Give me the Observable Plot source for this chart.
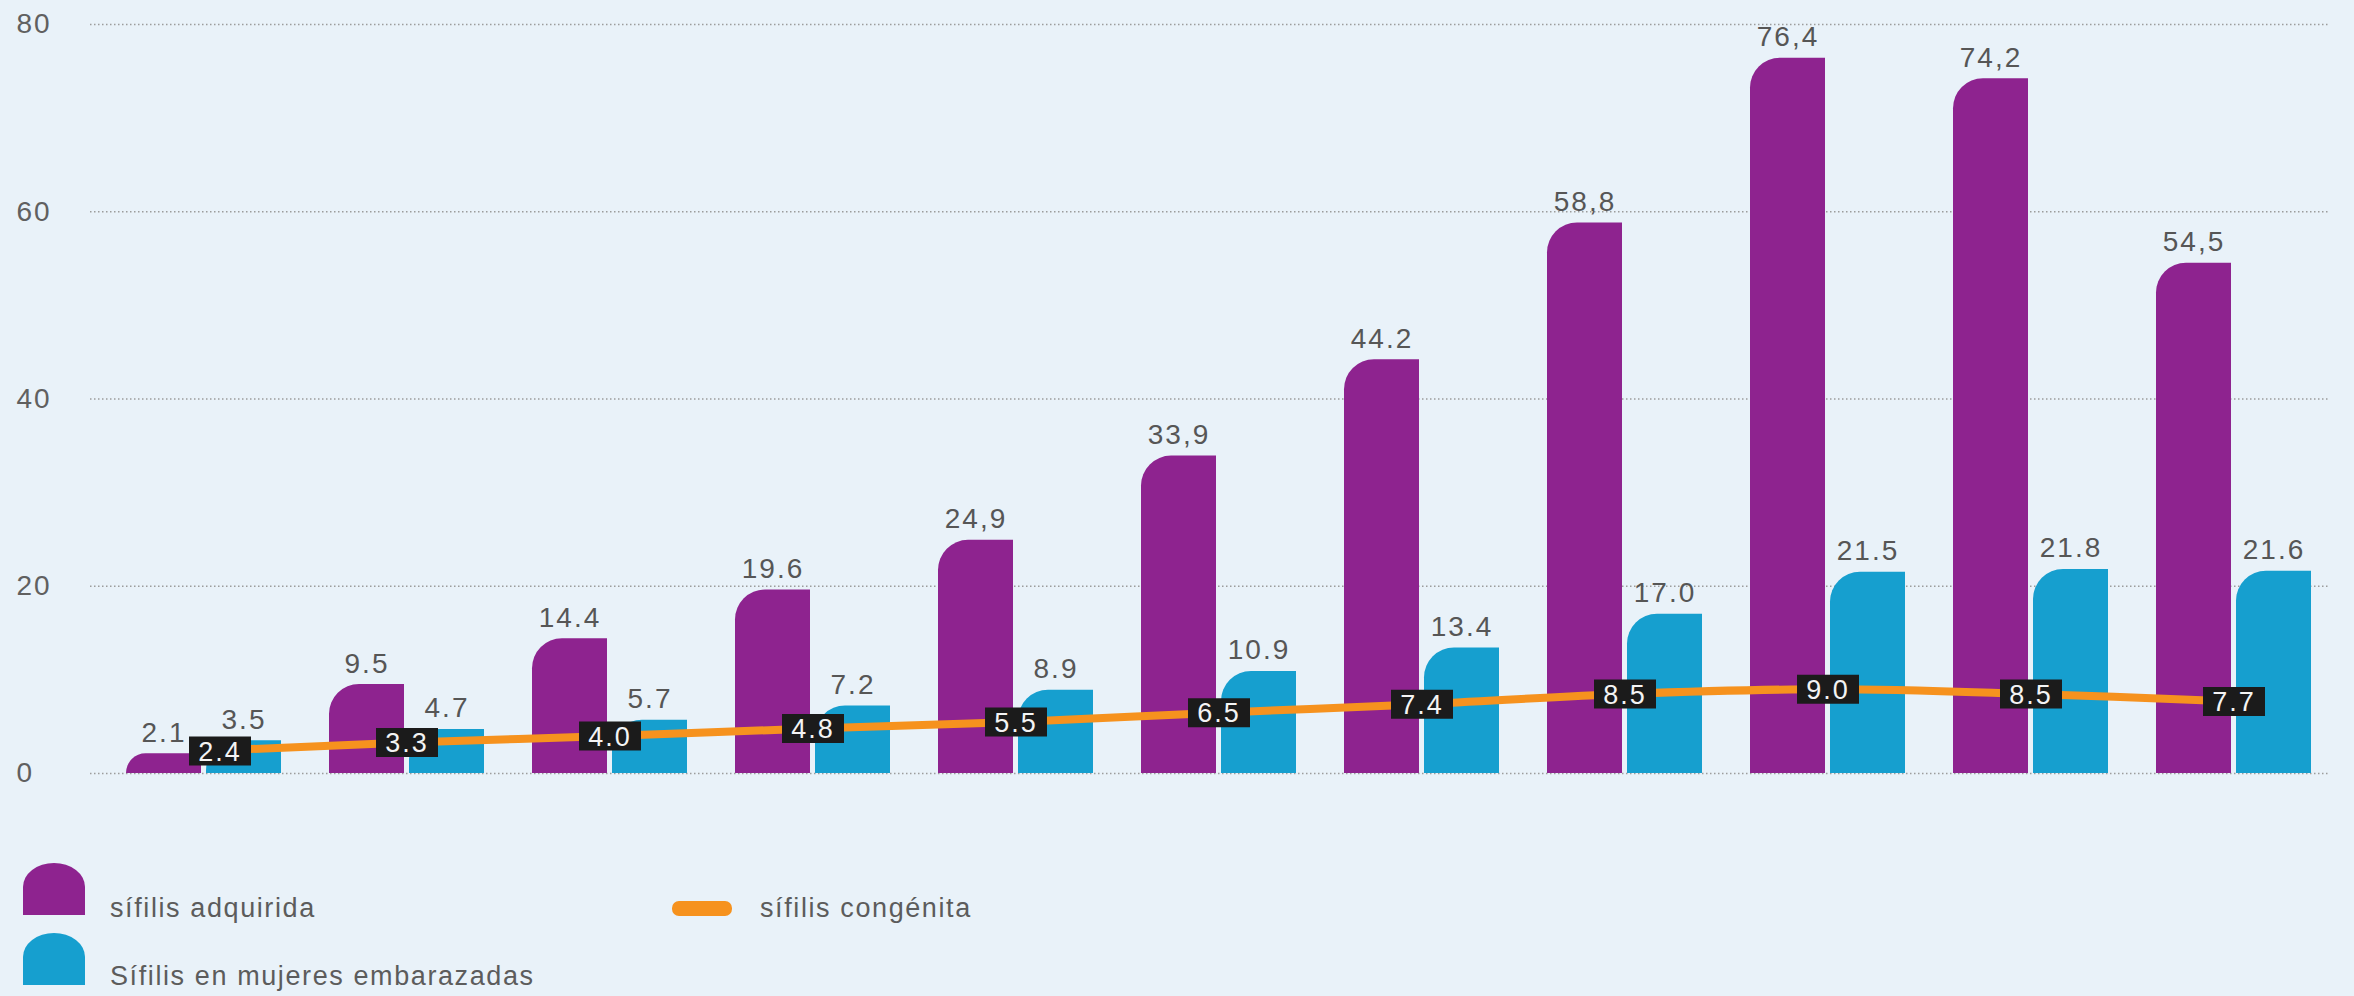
<!DOCTYPE html>
<html>
<head>
<meta charset="utf-8">
<script src="https://cdn.jsdelivr.net/npm/d3@7"></script>
<script src="https://cdn.jsdelivr.net/npm/@observablehq/plot@0.6"></script>
<style>
  html, body { margin: 0; padding: 0; background: #e9f2f9; }
  #wrap { position: relative; width: 2354px; height: 996px; overflow: hidden; background: #e9f2f9;
          font-family: "Liberation Sans", Arial, sans-serif; }
  #chart { position: absolute; left: 0; top: 0; }
  .lg { position: absolute; font-size: 27px; color: #5c5c5c; letter-spacing: 1.6px; white-space: nowrap; }
  .sw { position: absolute; }
</style>
</head>
<body>
<div id="wrap">
  <div id="chart"></div>
  <div id="legend"></div>
</div>
<script>
// ---- data ----
const categories = ["1", "2", "3", "4", "5", "6", "7", "8", "9", "10", "11"];
const adquirida = [2.1, 9.5, 14.4, 19.6, 24.9, 33.9, 44.2, 58.8, 76.4, 74.2, 54.5];
const adquiridaLabels = ["2.1", "9.5", "14.4", "19.6", "24,9", "33,9", "44.2", "58,8", "76,4", "74,2", "54,5"];
const embarazadas = [3.5, 4.7, 5.7, 7.2, 8.9, 10.9, 13.4, 17.0, 21.5, 21.8, 21.6];
const embarazadasLabels = ["3.5", "4.7", "5.7", "7.2", "8.9", "10.9", "13.4", "17.0", "21.5", "21.8", "21.6"];
const congenita = [2.4, 3.3, 4.0, 4.8, 5.5, 6.5, 7.4, 8.5, 9.0, 8.5, 7.7];
const congenitaLabels = ["2.4", "3.3", "4.0", "4.8", "5.5", "6.5", "7.4", "8.5", "9.0", "8.5", "7.7"];
const yTicks = [0, 20, 40, 60, 80];
const seriesNames = ["sífilis adquirida", "Sífilis en mujeres embarazadas", "sífilis congénita"];

const PURPLE = "#8e238f", CYAN = "#169fcf", ORANGE = "#f6921e";

const rows = categories.map((c, i) => ({
  cat: c,
  adq: adquirida[i], adqL: adquiridaLabels[i],
  emb: embarazadas[i], embL: embarazadasLabels[i],
  con: congenita[i], conL: congenitaLabels[i]
}));

const boxSymbol = {
  draw(ctx, size) { ctx.rect(-31, -14.5, 62, 29); }
};
const first = (d, i) => i === 0;
const rest = (d, i) => i !== 0;

const chart = Plot.plot({
  width: 2354,
  height: 800,
  marginLeft: 90,
  marginRight: 24,
  marginTop: 24,
  marginBottom: 27,
  style: { background: "transparent", fontFamily: "'Liberation Sans', Arial, sans-serif", letterSpacing: "2px" },
  x: { domain: categories, paddingInner: 0.237, paddingOuter: 0.129, align: 0.648, axis: null },
  y: { domain: [0, 80] },
  marks: [
    Plot.gridY(yTicks, { stroke: "#9c9c9c", strokeOpacity: 1, strokeWidth: 1.6, strokeDasharray: "1.5,2.5" }),
    Plot.axisY(yTicks, { tickSize: 0, tickPadding: 74, textAnchor: "start", fontSize: 28, fill: "#606060" }),
    Plot.barY(rows, { x: "cat", y: "adq", fill: PURPLE, insetRight: 80, rx1y1: 30 }),
    Plot.barY(rows, { x: "cat", y: "emb", fill: CYAN, insetLeft: 80, rx1y1: 30 }),
    Plot.text(rows, { x: "cat", y: "adq", text: "adqL", dx: -40, dy: -12, lineAnchor: "bottom", fontSize: 28, fill: "#565656" }),
    Plot.text(rows, { x: "cat", y: "emb", text: "embL", dx: 40, dy: -12, lineAnchor: "bottom", fontSize: 28, fill: "#565656" }),
    Plot.line(rows, { x: "cat", y: "con", stroke: ORANGE, strokeWidth: 8, curve: "catmull-rom" }),
    Plot.dot(rows, { filter: rest, x: "cat", y: "con", symbol: boxSymbol, fill: "#1b1b1b", r: 10 }),
    Plot.text(rows, { filter: rest, x: "cat", y: "con", text: "conL", fontSize: 27, fill: "#f4f4f4", dy: 1 }),
    Plot.dot(rows, { filter: first, x: "cat", y: "con", dx: 16, symbol: boxSymbol, fill: "#1b1b1b", r: 10 }),
    Plot.text(rows, { filter: first, x: "cat", y: "con", dx: 16, text: "conL", fontSize: 27, fill: "#f4f4f4", dy: 1 })
  ]
});
document.getElementById("chart").appendChild(chart);

// ---- legend (HTML, below the svg) ----
const legend = document.getElementById("legend");
function swatch(left, top, w, h, color, radius) {
  const d = document.createElement("div");
  d.className = "sw";
  Object.assign(d.style, { left: left + "px", top: top + "px", width: w + "px", height: h + "px", background: color, borderRadius: radius });
  legend.appendChild(d);
}
function label(left, top, text) {
  const d = document.createElement("div");
  d.className = "lg";
  d.style.left = left + "px";
  d.style.top = top + "px";
  d.textContent = text;
  legend.appendChild(d);
}
swatch(23, 863, 62, 52, PURPLE, "31px 31px 0 0 / 24px 24px 0 0");
label(110, 893, seriesNames[0]);
swatch(23, 933, 62, 52, CYAN, "31px 31px 0 0 / 24px 24px 0 0");
label(110, 961, seriesNames[1]);
swatch(672, 901, 60, 15, ORANGE, "7px");
label(760, 893, seriesNames[2]);
</script>
</body>
</html>
